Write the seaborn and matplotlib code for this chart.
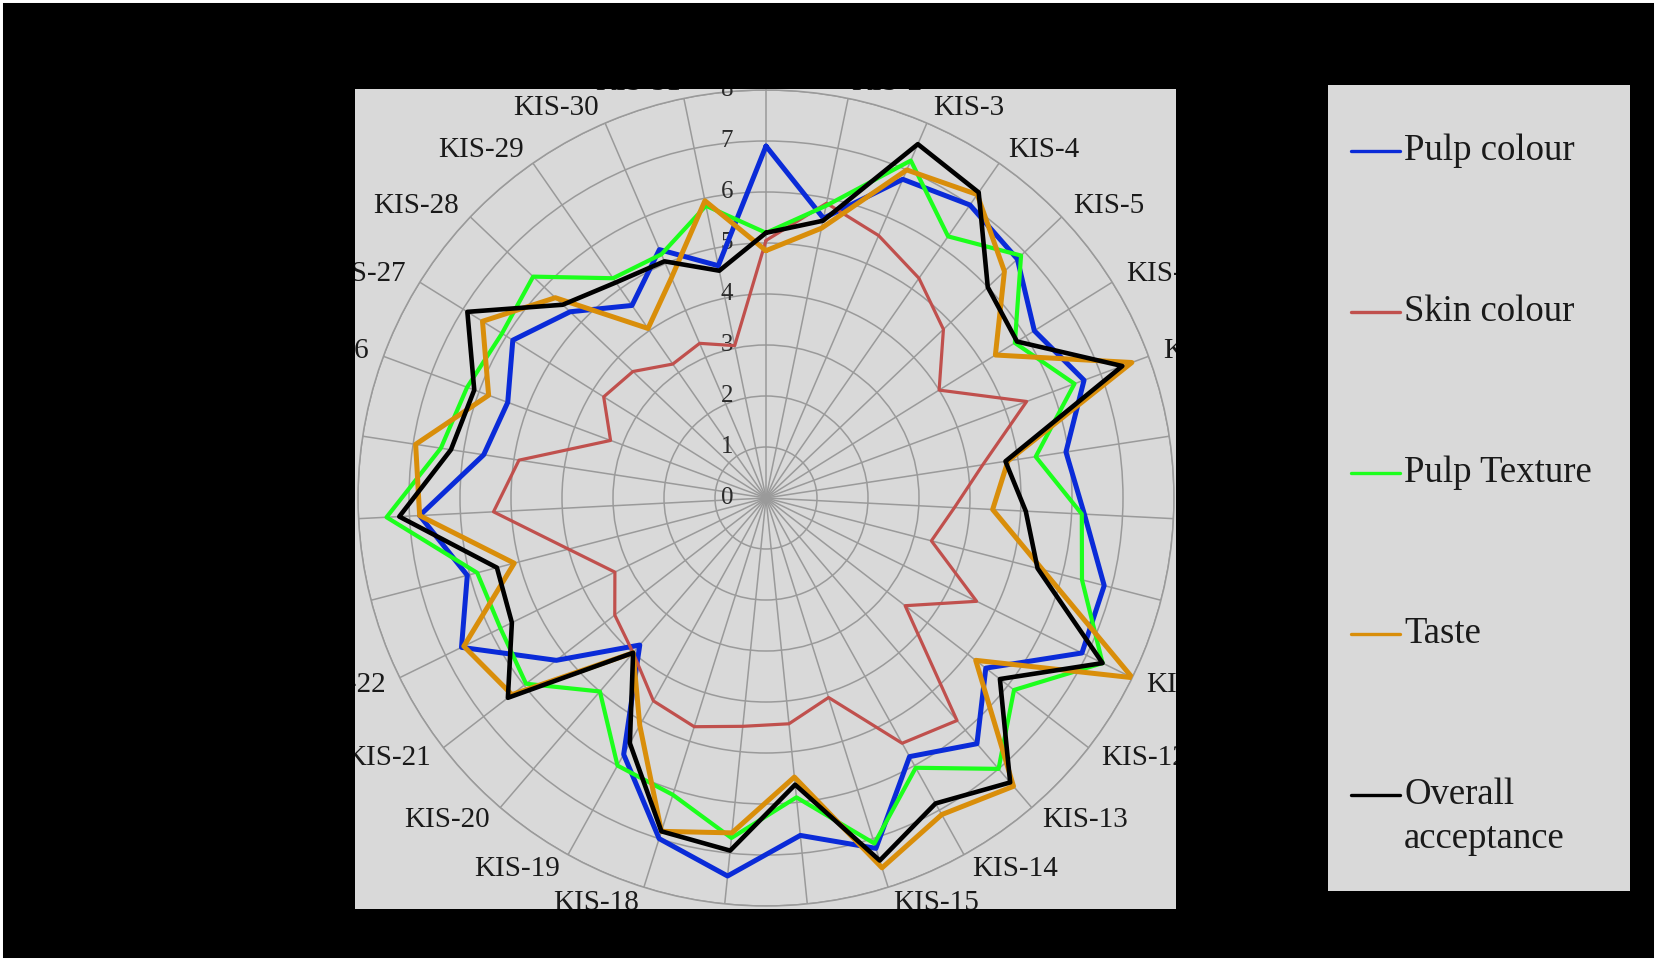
import numpy as np
import pandas as pd
import matplotlib
matplotlib.use("Agg")
import matplotlib.pyplot as plt
import seaborn as sns
from matplotlib.patches import Rectangle
from matplotlib.lines import Line2D

# ---------------- data ----------------
categories = [f"KIS-{i}" for i in range(1, 32)]

pulp_colour = [6.9, 5.6, 6.8, 7.0, 6.8, 6.2, 6.65, 5.95, 6.25, 6.85,
               6.9, 5.45, 6.35, 5.8, 7.2, 6.65, 7.45, 7.0, 5.75, 3.8,
               5.2, 6.65, 6.05, 6.8, 5.6, 5.4, 5.85, 5.3, 4.6, 5.3, 4.65]
skin_colour = [5.05, 5.9, 5.6, 5.25, 4.8, 4.0, 5.45, 4.3, 3.7, 3.35,
               4.6, 3.45, 5.75, 5.5, 4.1, 4.45, 4.5, 4.7, 4.55, 4.0,
               3.75, 3.3, 4.0, 5.35, 4.9, 3.25, 3.75, 3.6, 3.2, 3.3, 3.05]
pulp_texture = [5.2, 5.85, 7.2, 6.25, 6.9, 5.75, 6.45, 5.35, 6.2, 6.4,
                7.35, 6.15, 7.0, 6.05, 7.1, 5.9, 6.7, 6.1, 6.0, 5.0,
                5.95, 5.8, 5.85, 7.45, 6.45, 6.25, 6.1, 6.3, 5.25, 5.2, 5.85]
taste = [4.85, 5.4, 7.0, 7.25, 6.45, 5.3, 7.65, 4.8, 4.45, 5.6,
         8.0, 5.2, 7.45, 7.1, 7.6, 5.5, 6.6, 6.85, 5.1, 4.0,
         6.3, 6.6, 5.1, 6.8, 6.95, 5.8, 6.55, 5.7, 4.05, 4.7, 5.95]
overall = [5.2, 5.55, 7.55, 7.3, 6.0, 5.8, 7.45, 4.75, 5.1, 5.5,
           7.35, 5.8, 7.35, 6.85, 7.45, 5.65, 6.95, 6.85, 5.5, 4.0,
           6.4, 5.55, 5.45, 7.2, 6.25, 6.1, 6.9, 5.5, 5.15, 5.05, 4.55]

series_names = ["Pulp colour", "Skin colour", "Pulp Texture", "Taste",
                "Overall acceptance"]
radial_ticks = [0, 1, 2, 3, 4, 5, 6, 7, 8]

# ---------------- styling ----------------
series_values = [pulp_colour, skin_colour, pulp_texture, taste, overall]
colors = ["#0a2bd8", "#c0504d", "#1cff1c", "#d98e0a", "#000000"]
widths = [3.6, 2.3, 3.0, 3.6, 3.3]

W, H = 1657, 961
sns.set_theme(style="white")
plt.rcParams['font.family'] = ['Liberation Serif', 'DejaVu Serif']

fig = plt.figure(figsize=(W / 100, H / 100), dpi=100, facecolor="black")


def fx(px):
    return px / W


def fy(py):
    return 1 - py / H


GREY = "#d9d9d9"
TXT = "#1a1a1a"

# plot-area background (also used to clip the labels, as in the original)
plot_bg = Rectangle((fx(355), fy(909)), (1176 - 355) / W, (909 - 89) / H,
                    transform=fig.transFigure, facecolor=GREY,
                    edgecolor="none", zorder=-10)
fig.patches.append(plot_bg)
# legend background
fig.patches.append(Rectangle((fx(1328), fy(891)), (1630 - 1328) / W, (891 - 85) / H,
                             transform=fig.transFigure, facecolor=GREY,
                             edgecolor="none", zorder=-10))
# thin white frame of the picture
fig.patches.append(Rectangle((0, 0), 1, 1, transform=fig.transFigure, fill=False,
                             edgecolor="white", linewidth=4.3, zorder=20))

cx, cy, R = 766, 498, 408
ax = fig.add_axes([fx(cx - R), fy(cy + R), 2 * R / W, 2 * R / H], projection="polar")
ax.set_facecolor("none")
ax.set_theta_zero_location("N")
ax.set_theta_direction(-1)

n = len(categories)
theta = np.arange(n) * 2 * np.pi / n
theta_closed = np.append(theta, 2 * np.pi)

for name, vals, col, lw in zip(series_names, series_values, colors, widths):
    df = pd.DataFrame({"theta": theta_closed, "value": np.append(vals, vals[0])})
    sns.lineplot(data=df, x="theta", y="value", ax=ax, sort=False, estimator=None,
                 color=col, linewidth=lw, legend=False, zorder=5)

ax.set_xlabel("")
ax.set_ylabel("")
ax.set_ylim(0, 8)
ax.set_yticks(radial_ticks[1:])
ax.set_xticks(theta)
ax.tick_params(labelbottom=False, labelleft=False, length=0)
ax.grid(True, color="#9a9a9a", linewidth=1.1)
ax.spines["polar"].set_color("#9a9a9a")
ax.spines["polar"].set_linewidth(1.1)

# category labels (clipped by the plot area, like the original)
for t, lab in zip(theta, categories):
    s, c = np.sin(t), np.cos(t)
    if s > 0.05:
        ha = "left"
    elif s < -0.05:
        ha = "right"
    else:
        ha = "center"
    dx = 16 * s
    dy = (28 if abs(s) < 0.15 else 16) * c
    a = ax.annotate(lab, xy=(t, 8), xytext=(dx * 0.72, dy * 0.72),
                    textcoords="offset points", ha=ha, va="center",
                    fontsize=21, color=TXT, annotation_clip=False)
    a.set_clip_path(plot_bg)

# radial tick labels
for k in radial_ticks:
    a = ax.annotate(str(k), xy=(0, k), xytext=(-28, 0), textcoords="offset points",
                    ha="center", va="center", fontsize=18, color="#2a2a2a",
                    annotation_clip=False)
    a.set_clip_path(plot_bg)

# legend
leg_y = [151, 312, 473, 634, 795]
for name, col, yy in zip(series_names, colors, leg_y):
    fig.lines.append(Line2D([fx(1351), fx(1400)], [fy(yy), fy(yy)],
                            transform=fig.transFigure, color=col, linewidth=2.4))
    if name == "Overall acceptance":
        fig.text(fx(1404), fy(yy), "Overall", ha="left", va="center",
                 fontsize=26.5, color=TXT)
        fig.text(fx(1404), fy(yy + 44), "acceptance", ha="left", va="center",
                 fontsize=26.5, color=TXT)
    else:
        fig.text(fx(1404), fy(yy), name, ha="left", va="center", fontsize=26.5,
                 color=TXT)

fig.savefig("out.png", dpi=100, facecolor="black")
